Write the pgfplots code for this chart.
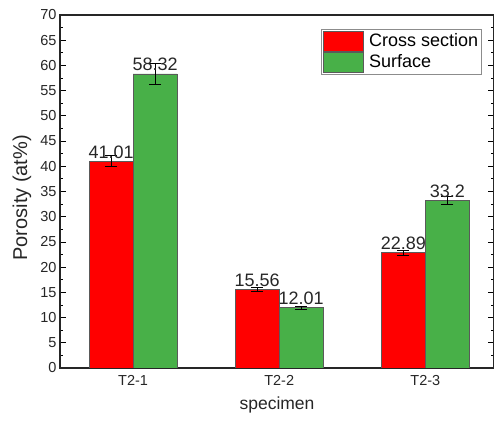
\documentclass[border=0pt]{standalone}
\usepackage{pgfplots}
\pgfplotsset{compat=1.18}
\usepackage{fontspec}
\setmainfont{Liberation Sans}
\definecolor{barred}{RGB}{255,0,0}
\definecolor{bargreen}{RGB}{72,176,72}
\definecolor{edge}{RGB}{90,90,90}
\begin{document}
\begin{tikzpicture}
\path[use as bounding box] (-60bp,-54bp) rectangle (434bp,368bp);
\begin{axis}[
  scale only axis,
  width=434bp, height=353bp,
  at={(0,0)}, anchor=south west,
  ybar=0pt, bar width=44bp,
  xmin=0.5, xmax=3.47,
  ymin=0, ymax=70,
  xtick={1,2,3}, xticklabels={T2-1,T2-2,T2-3},
  x tick style={draw=none},
  ytick={0,5,...,70},
  minor y tick num=1,
  yticklabel pos=left,
  tick align=inside,
  major tick length=6bp, minor tick length=3.5bp,
  every tick/.style={black, line width=0.8pt},
  axis line style={line width=1.1pt, black!85},
  /pgf/number format/assume math mode=true,
  tick label style={font=\fontsize{14.5bp}{16bp}\selectfont, text=black!85},
  xticklabel style={yshift=-4bp},
  xlabel={specimen}, ylabel={Porosity (at\%)},
  xlabel style={at={(axis description cs:0.5,0)}, yshift=-37bp, anchor=center, font=\fontsize{17.5bp}{20bp}\selectfont, text=black!85},
  ylabel style={at={(axis description cs:-0.0876,0.482)}, anchor=center, font=\fontsize{20bp}{22bp}\selectfont, text=black!85},
  legend style={at={(0.601,0.960)}, anchor=north west, draw=black!45, line width=0.6pt,
    font=\fontsize{18bp}{21bp}\selectfont, inner xsep=1.5bp, inner ysep=1.5bp, row sep=0.5bp,
    cells={anchor=west, inner xsep=2bp},
    /tikz/every odd column/.append style={column sep=4bp}},
  legend image code/.code={\draw[#1, draw=edge, line width=0.5pt] (0bp,-10bp) rectangle (40bp,10bp);},
  nodes near coords={\pgfplotspointmeta},
  point meta=explicit symbolic,
  every node near coord/.append style={font=\fontsize{18bp}{20bp}\selectfont, text=black!85, inner sep=2.5bp, anchor=south},
]
\addplot[fill=barred, draw=edge, line width=0.5pt,
  error bars/.cd, y dir=both, y explicit,
  error bar style={black, line width=0.7pt},
  error mark options={rotate=90, mark size=6bp, line width=0.7pt, black}]
  table[x=x, y=y, y error=e, meta=lab] {
x y e lab
1 41.01 1.1 41.01
2 15.56 0.4 15.56
3 22.89 0.5 22.89
};
\addplot[fill=bargreen, draw=edge, line width=0.5pt,
  error bars/.cd, y dir=both, y explicit,
  error bar style={black, line width=0.7pt},
  error mark options={rotate=90, mark size=6bp, line width=0.7pt, black}]
  table[x=x, y=y, y error=e, meta=lab] {
x y e lab
1 58.32 2.0 58.32
2 12.01 0.3 12.01
3 33.2 0.8 33.2
};
\legend{Cross section, Surface}
\end{axis}
\end{tikzpicture}
\end{document}
